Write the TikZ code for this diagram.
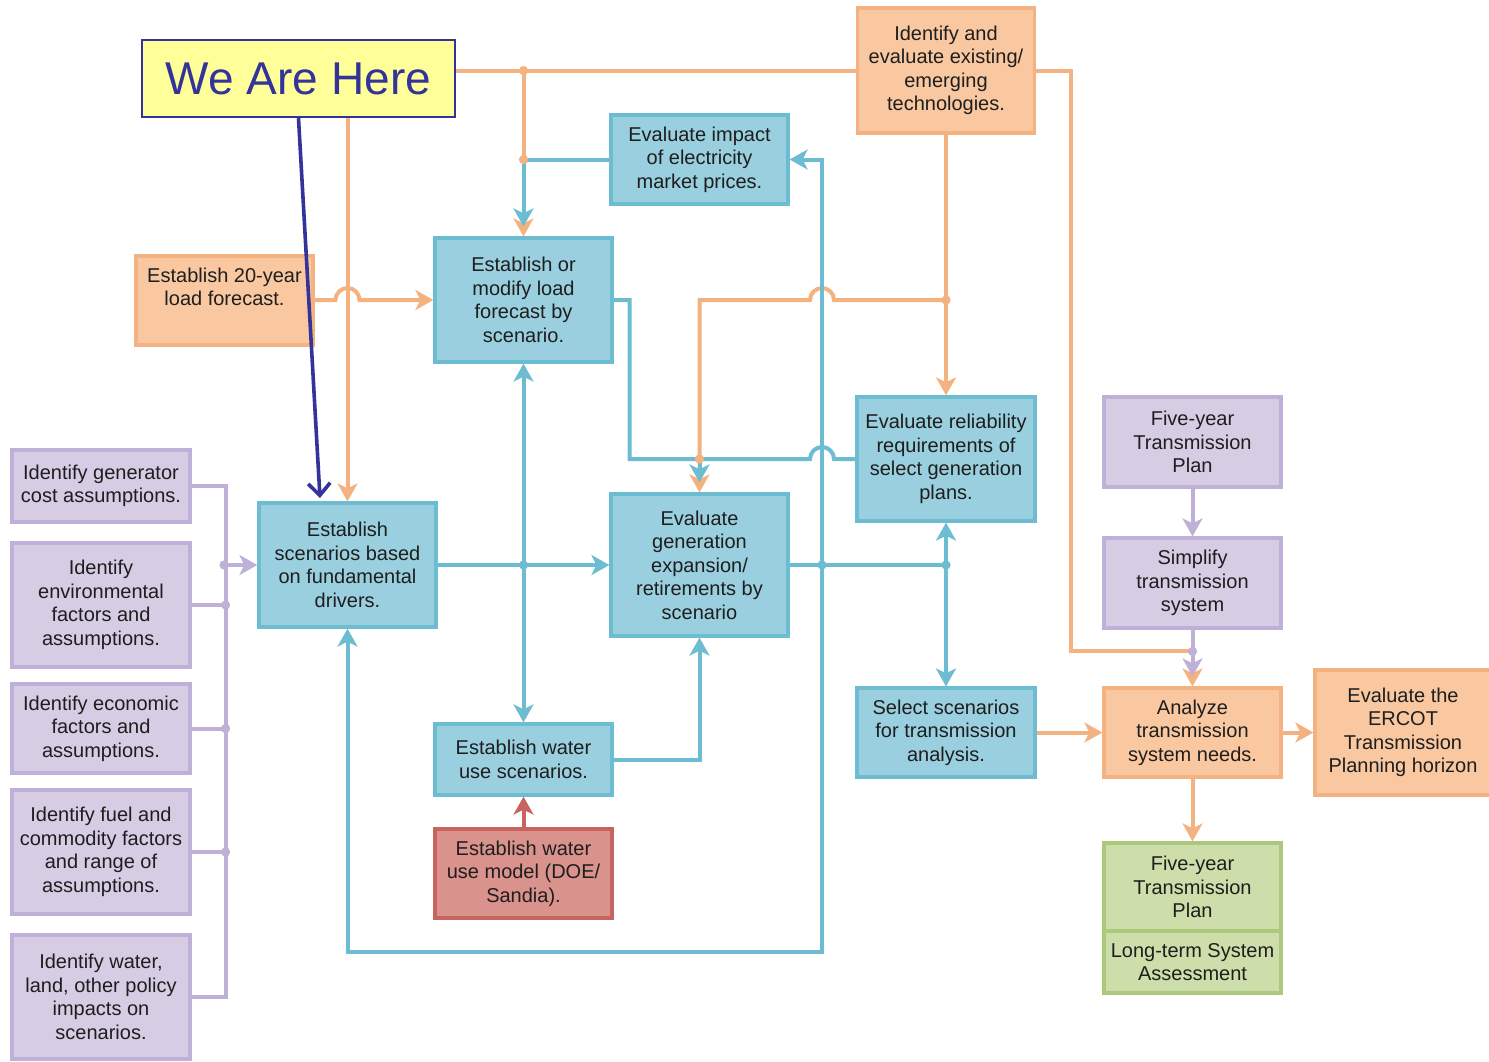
\documentclass[tikz,border=0pt]{standalone}
\usepackage{fontspec}
\setmainfont{Liberation Sans}
\usetikzlibrary{arrows.meta}
\definecolor{orfill}{RGB}{250,200,160}
\definecolor{orline}{RGB}{244,178,128}
\definecolor{blfill}{RGB}{153,207,222}
\definecolor{blline}{RGB}{108,188,210}
\definecolor{pufill}{RGB}{214,204,228}
\definecolor{puline}{RGB}{190,176,214}
\definecolor{refill}{RGB}{217,146,140}
\definecolor{reline}{RGB}{200,100,95}
\definecolor{grfill}{RGB}{205,222,170}
\definecolor{grline}{RGB}{172,200,124}
\definecolor{yefill}{RGB}{255,255,153}
\definecolor{heline}{RGB}{51,51,153}
\definecolor{txt}{RGB}{30,30,30}

\begin{document}
\begin{tikzpicture}[x=0.5pt,y=-0.5pt,
    >={Stealth[length=9pt,width=10pt,inset=2.5pt]},
    stage/.style={draw,line width=1.6pt,align=center,minimum width=88.5pt,inner sep=1pt,
      text=txt,font=\fontsize{10}{11.75}\selectfont},
    obox/.style={stage,fill=orfill,draw=orline},
    bbox/.style={stage,fill=blfill,draw=blline},
    pbox/.style={stage,fill=pufill,draw=puline},
    rbox/.style={stage,fill=refill,draw=reline},
    gbox/.style={stage,fill=grfill,draw=grline},
    oline/.style={draw=orline,line width=2pt},
    bline/.style={draw=blline,line width=2pt},
    pline/.style={draw=puline,line width=2pt},
    rline/.style={draw=reline,line width=2pt}]
  \useasboundingbox (0,0) rectangle (1489,1061);

  % boxes
  \node[obox,minimum height=62.5pt] (tech) at (946,70.5) {Identify and\\evaluate existing/\\emerging\\technologies.};
  \node[bbox,minimum height=44.5pt] (impact) at (699.5,159.5) {Evaluate impact\\of electricity\\market prices.};
  \node[obox,minimum height=44.5pt,text depth=14pt] (load20) at (224.5,300.5) {Establish 20-year\\load forecast.};
  \node[bbox,minimum height=62pt] (loadmod) at (523.5,300) {Establish or\\modify load\\forecast by\\scenario.};
  \node[bbox,minimum height=62pt,minimum width=89pt] (reliab) at (946,459) {Evaluate reliability\\requirements of\\select generation\\plans.};
  \node[pbox,minimum height=45pt] (fiveyr) at (1192.5,442) {Five-year\\Transmission\\Plan};
  \node[pbox,minimum height=45pt] (simplify) at (1192.5,583) {Simplify\\transmission\\system};
  \node[bbox,minimum height=62pt] (scen) at (347.5,565) {Establish\\scenarios based\\on fundamental\\drivers.};
  \node[bbox,minimum height=71pt] (genexp) at (699.5,565) {Evaluate\\generation\\expansion/\\retirements by\\scenario};
  \node[pbox,minimum height=36pt,minimum width=89pt] (gencost) at (101,486) {Identify generator\\cost assumptions.};
  \node[pbox,minimum height=62pt,minimum width=89pt] (envir) at (101,605) {Identify\\environmental\\factors and\\assumptions.};
  \node[pbox,minimum height=44.5pt,minimum width=89pt] (econ) at (101,728.5) {Identify economic\\factors and\\assumptions.};
  \node[pbox,minimum height=62pt,minimum width=89pt] (fuel) at (101,852) {Identify fuel and\\commodity factors\\and range of\\assumptions.};
  \node[pbox,minimum height=62pt,minimum width=89pt] (policy) at (101,997) {Identify water,\\land, other policy\\impacts on\\scenarios.};
  \node[bbox,minimum height=44.5pt,minimum width=89pt] (select) at (946,732.5) {Select scenarios\\for transmission\\analysis.};
  \node[obox,minimum height=44.5pt] (analyze) at (1192.5,732.5) {Analyze\\transmission\\system needs.};
  \node[obox,minimum height=62.5pt,minimum width=88pt] (ercot) at (1403,732.5) {Evaluate the\\ERCOT\\Transmission\\Planning horizon};
  \node[bbox,minimum height=35.5pt] (wateruse) at (523.5,759.5) {Establish water\\use scenarios.};
  \node[rbox,minimum height=44.5pt] (watermod) at (523.5,873.5) {Establish water\\use model (DOE/\\Sandia).};
  \node[gbox,minimum height=44pt] (tplan) at (1192.5,887) {Five-year\\Transmission\\Plan};
  \node[gbox,minimum height=31pt] (ltsa) at (1192.5,962) {Long-term System\\Assessment};

  % junctions
  \coordinate (jA) at (loadmod.north |- tech.west);
  \coordinate (jB) at (loadmod.north |- impact.west);
  \coordinate (jC) at (tech.south |- loadmod.east);
  \coordinate (jD) at (genexp.north |- reliab.west);
  \coordinate (jE) at (loadmod.south |- scen.east);
  \coordinate (jF) at (822,565);
  \coordinate (jG) at (reliab.south |- genexp.east);
  \coordinate (jH) at ([yshift=17.5pt]analyze.north);
  \coordinate (lc) at (822,952);
  \coordinate (pj) at (224,565);

  % orange links
  \draw[oline,->] (tech.west) -| (scen.north);
  \draw[oline,->] (jA) -- (loadmod.north);
  \draw[oline,->] (tech.south) -- (reliab.north);
  \draw[oline,->] (jC) -- ([xshift=6pt]jF |- jC) arc[start angle=0,end angle=180,radius=6pt]
    -- (genexp.north |- jC) -- (genexp.north);
  \draw[oline,->] (tech.east) -- ++(35,0) |- (jH) -- (analyze.north);
  \draw[oline,->] (load20.east |- loadmod.west) -- ([xshift=-6pt]scen.north |- loadmod.west)
    arc[start angle=180,end angle=0,radius=6pt] -- (loadmod.west);
  \draw[oline,->] (select) -- (analyze);
  \draw[oline,->] (analyze) -- (ercot);
  \draw[oline,->] (analyze) -- (tplan);

  % blue links
  \draw[bline] (impact.west) -- (jB);
  \draw[bline,->] (jB) -- ([yshift=5pt]loadmod.north);
  \draw[bline] (loadmod.east) -- ++(16,0) |- ([xshift=-6pt]jF |- jD)
    arc[start angle=180,end angle=0,radius=6pt] -- (reliab.west);
  \draw[bline,->] (jD) -- ([yshift=5pt]genexp.north);
  \draw[bline,->] (scen.east) -- (genexp.west);
  \draw[bline,<->] (loadmod.south) -- (wateruse.north);
  \draw[bline] (genexp.east) -- (jG);
  \draw[bline,<->] (reliab.south) -- (select.north);
  \draw[bline,->] (jF) |- (impact.east);
  \draw[bline,->] (jF) -- (lc) -| (scen.south);
  \draw[bline,->] (wateruse.east) -| (genexp.south);

  % red link
  \draw[rline,->] (watermod) -- (wateruse);

  % purple links
  \draw[pline] (gencost.east) -- ++(34,0) |- (policy.east);
  \draw[pline] (envir.east) -- ++(34,0);
  \draw[pline] (econ.east) -- ++(34,0);
  \draw[pline] (fuel.east) -- ++(34,0);
  \draw[pline,->] (pj) -- (scen.west);
  \draw[pline,->] (fiveyr) -- (simplify);
  \draw[pline,->] (simplify.south) -- ([yshift=5pt]analyze.north);

  % dots
  \fill[orline] (jA) circle[radius=2.3pt] (jB) circle[radius=2.3pt]
    (jC) circle[radius=2.3pt] (jD) circle[radius=2.3pt];
  \fill[blline] (jE) circle[radius=2.3pt] (jF) circle[radius=2.3pt] (jG) circle[radius=2.3pt];
  \fill[puline] (pj) circle[radius=2.3pt] (jH) circle[radius=2.3pt]
    ([xshift=17pt]envir.east) circle[radius=2.3pt]
    ([xshift=17pt]econ.east) circle[radius=2.3pt]
    ([xshift=17pt]fuel.east) circle[radius=2.3pt];

  % pointer
  \node[draw=heline,line width=1.2pt,fill=yefill,text=heline,minimum width=156.5pt,
    minimum height=38.5pt,font=\fontsize{23}{27}\selectfont] (weare) at (298.5,78.5) {We Are Here};
  \coordinate (herept) at (320,498);
  \draw[heline,line width=1.8pt,-{Straight Barb[length=6pt,width=11pt]}] (weare.south) -- (herept);
\end{tikzpicture}
\end{document}
